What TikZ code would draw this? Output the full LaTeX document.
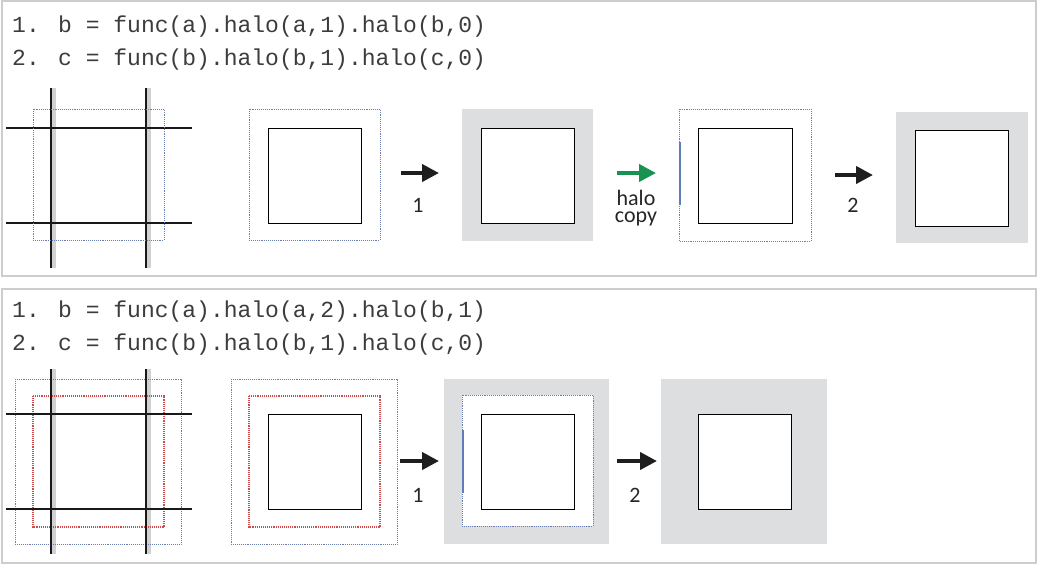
\documentclass[tikz,border=0pt]{standalone}
\usepackage{fontspec}
\newfontfamily\codefont{Liberation Mono}
\newfontfamily\labelfont{Carlito}
\usetikzlibrary{arrows.meta}

\definecolor{panelrule}{RGB}{205,205,205}
\definecolor{halofill}{RGB}{221,222,224}
\definecolor{haloblue}{RGB}{105,125,175}
\definecolor{edgeblue}{RGB}{95,125,185}
\definecolor{halored}{RGB}{210,75,75}
\definecolor{copygreen}{RGB}{25,145,80}
\definecolor{codeink}{RGB}{60,60,60}
\definecolor{arrowink}{RGB}{30,30,30}

\tikzset{
  panel/.style={draw=panelrule, line width=1.3},
  halo/.style={draw=haloblue, densely dotted, line width=0.9},
  halored/.style={draw=halored, densely dotted, line width=1.1},
  core/.style={draw=black, fill=white, line width=0.9},
  ghost/.style={fill=halofill},
  gridline/.style={line width=2.8, black!90},
  gridshade/.style={line width=4, black!18},
  edgecopy/.style={line width=2, edgeblue},
  steparrow/.style={line width=4, arrowink, -{Triangle[length=17pt,width=17pt]}},
  copyarrow/.style={steparrow, copygreen},
  code/.style={anchor=base west, inner sep=0, text=codeink,
    font=\codefont\fontsize{23}{23}\selectfont},
  steplabel/.style={anchor=base, inner sep=0, text=black!85,
    font=\labelfont\fontsize{22}{17}\selectfont, align=center}
}

\begin{document}
\begin{tikzpicture}[x=1pt,y=-1pt]
\useasboundingbox (0,0) rectangle (1038,566);

% ---------------- upper panel ----------------
\draw[panel] (2,1) rectangle (1036,276);
\node[code] (codeA1) at (12,32) {1. b = func(a).halo(a,1).halo(b,0)};
\node[code] (codeA2) at (12,65) {2. c = func(b).halo(b,1).halo(c,0)};

% partition grid with halo of width 1
\foreach \x in {51,146} \draw[gridshade] (\x+3,88) -- (\x+3,268);
\foreach \y in {128,223} \draw[gridline] (6,\y) -- (192,\y);
\foreach \x in {51,146} \draw[gridline] (\x,88) -- (\x,268);
\draw[halo] (33,109) rectangle (164,240);

% stage a
\draw[halo] (249,109) rectangle (380,240);
\draw[core] (268,128) rectangle (361,223);
\coordinate (a1s) at (401,173);
\coordinate (a1e) at (439,173);
\draw[steparrow] (a1s) -- (a1e);
\node[steplabel] (l1a) at (418,212) {1};

% stage b
\fill[ghost] (462,109) rectangle (593,241);
\draw[core] (481,128) rectangle (574,223);
\coordinate (a2s) at (617,173);
\coordinate (a2e) at (656,173);
\draw[copyarrow] (a2s) -- (a2e);
\node[steplabel] (lcopy) at (636,222) {halo\\copy};

% stage b with copied halo
\draw[halo] (679,109) rectangle (811,241);
\draw[edgecopy] (680,142) -- (680,205);
\draw[core] (698,128) rectangle (792,223);
\coordinate (a3s) at (835,175);
\coordinate (a3e) at (873,175);
\draw[steparrow] (a3s) -- (a3e);
\node[steplabel] (l2a) at (853,212) {2};

% stage c
\fill[ghost] (896,112) rectangle (1028,243);
\draw[core] (915,130) rectangle (1008,226);

% ---------------- lower panel ----------------
\draw[panel] (2,289) rectangle (1036,563);
\node[code] (codeB1) at (12,317) {1. b = func(a).halo(a,2).halo(b,1)};
\node[code] (codeB2) at (12,350) {2. c = func(b).halo(b,1).halo(c,0)};

% partition grid with halos of width 2 and 1
\foreach \x in {51,146} \draw[gridshade] (\x+3,369) -- (\x+3,554);
\draw[halo] (15,379) rectangle (181,544);
\draw[halored] (33,396) rectangle (164,527);
\foreach \y in {414,509} \draw[gridline] (6,\y) -- (192,\y);
\foreach \x in {51,146} \draw[gridline] (\x,369) -- (\x,554);

% stage a
\draw[halo] (231,379) rectangle (397,544);
\draw[halored] (249,396) rectangle (380,527);
\draw[core] (268,414) rectangle (361,509);
\coordinate (b1s) at (400,461);
\coordinate (b1e) at (439,461);
\draw[steparrow] (b1s) -- (b1e);
\node[steplabel] (l1b) at (418,502) {1};

% stage b
\fill[ghost] (444,379) rectangle (609,544);
\draw[halo, fill=white] (462,395) rectangle (593,526);
\draw[edgecopy] (463,430) -- (463,493);
\draw[core] (481,414) rectangle (574,509);
\coordinate (b2s) at (617,461);
\coordinate (b2e) at (657,461);
\draw[steparrow] (b2s) -- (b2e);
\node[steplabel] (l2b) at (635,502) {2};

% stage c
\fill[ghost] (661,379) rectangle (827,544);
\draw[core] (698,414) rectangle (791,509);
\end{tikzpicture}
\end{document}
